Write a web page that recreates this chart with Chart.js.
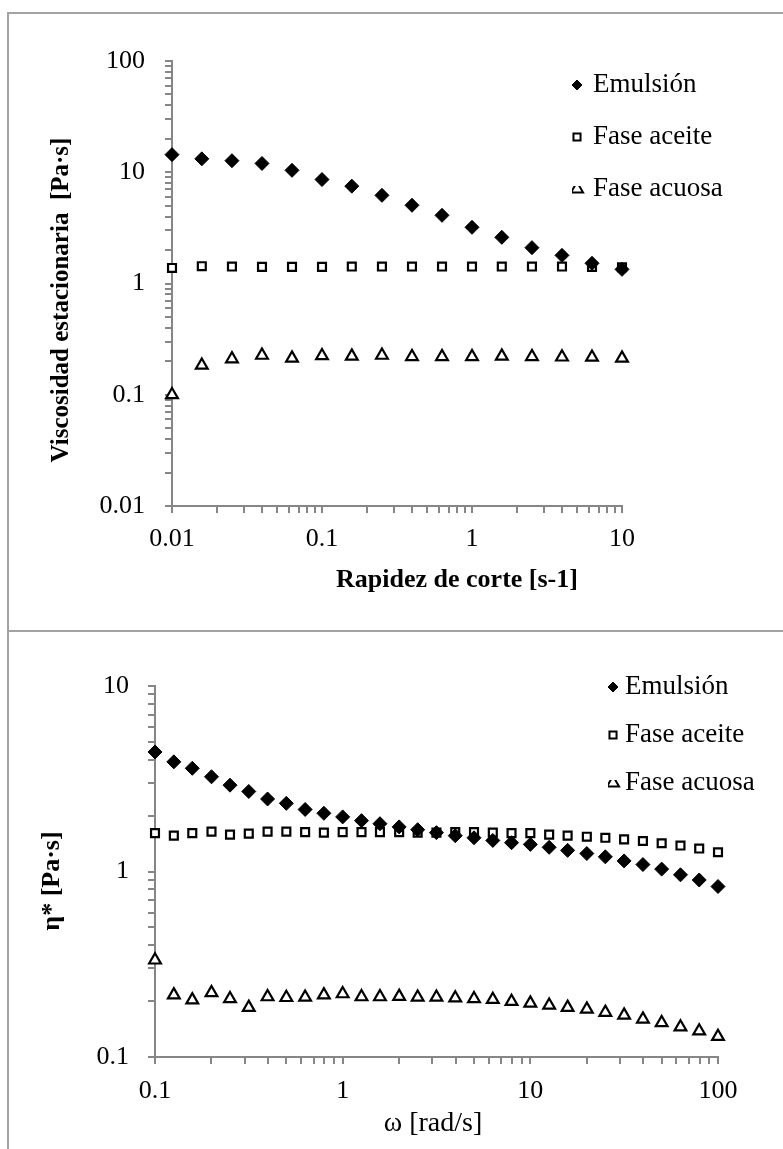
<!DOCTYPE html>
<html lang="es">
<head>
<meta charset="utf-8">
<title>Viscosidad de la emulsión y sus fases</title>
<script src="https://cdn.jsdelivr.net/npm/chart.js@4.4.1/dist/chart.umd.min.js"></script>
<style>
    html, body { margin: 0; padding: 0; background: #fff; }
    body { position: relative; width: 783px; height: 1149px; overflow: hidden; }
    .marco { position: absolute; left: 7px; width: 820px; border: 2px solid #a3a3a3; box-sizing: border-box; }
    #marco1 { top: 12px; height: 620px; }
    #marco2 { top: 630px; height: 580px; }
    canvas { position: absolute; left: 0; }
    #flujo { top: 0; }
    #oscilatorio { top: 630px; }
</style>
</head>
<body>
<div class="marco" id="marco1"></div>
<div class="marco" id="marco2"></div>
<canvas id="flujo" width="783" height="630"></canvas>
<canvas id="oscilatorio" width="783" height="519"></canvas>

<script>
// [1] datos: curva de flujo (viscosidad estacionaria vs rapidez de corte)
// -------------------------------------------
const rapidez = [0.01, 0.0158, 0.0251, 0.0398, 0.0631, 0.1, 0.158, 0.251, 0.398, 0.631, 1, 1.58, 2.51, 3.98, 6.31, 10];
const visEmulsion = [14.4, 13.2, 12.7, 12.0, 10.4, 8.6, 7.5, 6.2, 5.05, 4.1, 3.2, 2.6, 2.1, 1.79, 1.52, 1.34];
const visAceite = [1.38, 1.43, 1.42, 1.41, 1.41, 1.41, 1.42, 1.42, 1.42, 1.42, 1.42, 1.42, 1.42, 1.42, 1.41, 1.40];
const visAcuosa = [0.1, 0.184, 0.21, 0.226, 0.213, 0.224, 0.222, 0.226, 0.22, 0.22, 0.22, 0.222, 0.22, 0.218, 0.217, 0.213];

// [2] datos: barrido de frecuencia (viscosidad compleja vs omega)
// -------------------------------------------
const omega = [0.1, 0.126, 0.158, 0.2, 0.251, 0.316, 0.398, 0.501, 0.631, 0.794,
               1, 1.26, 1.58, 2, 2.51, 3.16, 3.98, 5.01, 6.31, 7.94,
               10, 12.6, 15.8, 20, 25.1, 31.6, 39.8, 50.1, 63.1, 79.4, 100];
const etaEmulsion = [4.41, 3.90, 3.60, 3.24, 2.92, 2.70, 2.46, 2.33, 2.16, 2.06,
                     1.97, 1.88, 1.81, 1.74, 1.68, 1.62, 1.56, 1.52, 1.47, 1.43,
                     1.40, 1.35, 1.30, 1.25, 1.20, 1.14, 1.09, 1.03, 0.96, 0.90, 0.83];
const etaAceite = [1.61, 1.56, 1.61, 1.64, 1.58, 1.60, 1.64, 1.64, 1.63, 1.62,
                   1.63, 1.63, 1.63, 1.63, 1.62, 1.62, 1.63, 1.63, 1.62, 1.61,
                   1.61, 1.58, 1.56, 1.54, 1.52, 1.49, 1.46, 1.42, 1.38, 1.33, 1.27];
const etaAcuosa = [0.333, 0.216, 0.203, 0.222, 0.206, 0.185, 0.211, 0.209, 0.210, 0.216,
                   0.219, 0.211, 0.211, 0.212, 0.210, 0.210, 0.208, 0.206, 0.204, 0.199,
                   0.195, 0.190, 0.185, 0.181, 0.174, 0.168, 0.160, 0.153, 0.145, 0.138, 0.129];

// [3] marcas de los ejes (décadas con etiqueta)
// -------------------------------------------
const decadasX1 = [0.01, 0.1, 1, 10];
const decadasY1 = [0.01, 0.1, 1, 10, 100];
const decadasX2 = [0.1, 1, 10, 100];
const decadasY2 = [0.1, 1, 10];

const series = ['Emulsión', 'Fase aceite', 'Fase acuosa'];

Chart.defaults.font.family = "'Liberation Serif', serif";
Chart.defaults.color = '#000';

const GRIS = '#868686';

// marcas menores 2..9 dentro de cada década
function marcasLog(decadas) {
    const marcas = [];
    decadas.forEach((d, i) => {
        marcas.push(d);
        if (i < decadas.length - 1) {
            for (let k = 2; k <= 9; k++) marcas.push(d * k);
        }
    });
    return marcas;
}

function ejeLog(decadas, tam, pad) {
    return {
        type: 'logarithmic',
        min: decadas[0],
        max: decadas[decadas.length - 1],
        afterBuildTicks: scale => {
            scale.ticks = marcasLog(decadas).map(v => ({ value: v }));
        },
        afterFit: scale => {
            if (scale.isHorizontal()) scale.height = tam;
            else scale.width = tam;
        },
        ticks: {
            autoSkip: false,
            maxRotation: 0,
            padding: pad,
            font: { size: 26 },
            callback: v => decadas.includes(v) ? String(v) : ' '
        },
        grid: {
            drawOnChartArea: false,
            drawTicks: true,
            tickLength: 7,
            color: GRIS,
            tickColor: GRIS,
            lineWidth: 2,
            tickWidth: 2
        },
        border: { color: GRIS, width: 2 }
    };
}

// estilos de los marcadores
const estilos = [
    { pointStyle: 'rectRot', pointRadius: 7, backgroundColor: '#000', borderColor: '#000', borderWidth: 1 },
    { pointStyle: 'rect', pointRadius: 5.6, backgroundColor: '#fff', borderColor: '#000', borderWidth: 2.2 },
    { pointStyle: 'triangle', pointRadius: 6.8, backgroundColor: '#fff', borderColor: '#000', borderWidth: 2.2 }
];

function armarSeries(xs, listas) {
    return listas.map((ys, i) => Object.assign({
        label: series[i],
        data: xs.map((x, j) => ({ x: x, y: ys[j] })),
        showLine: false,
        clip: false
    }, estilos[i]));
}

// [4] leyenda y títulos de ejes dibujados en el lienzo
// -------------------------------------------
function rotulos(cfg) {
    return {
        id: 'rotulos_' + cfg.id,
        afterDraw(chart) {
            const ctx = chart.ctx;
            ctx.save();
            ctx.fillStyle = '#000';

            // leyenda
            ctx.font = "27px 'Liberation Serif'";
            ctx.textAlign = 'left';
            ctx.textBaseline = 'middle';
            series.forEach((nombre, i) => {
                const y = cfg.leyY[i];
                const est = estilos[i];
                const opts = {
                    pointStyle: est.pointStyle,
                    radius: i === 2 ? 7 : 5,
                    borderWidth: est.borderWidth,
                    rotation: 0
                };
                ctx.save();
                ctx.fillStyle = est.backgroundColor;
                ctx.strokeStyle = est.borderColor;
                ctx.lineWidth = i === 0 ? 1 : 2;
                if (i === 2) {
                    // el triángulo de la leyenda sale recortado
                    ctx.beginPath();
                    ctx.rect(cfg.leyX - 5, y - 3, 16, 12);
                    ctx.clip();
                }
                Chart.helpers.drawPoint(ctx, opts, cfg.leyX, y);
                ctx.restore();
                ctx.fillText(nombre, cfg.leyTexto, y);
            });

            // título eje x
            ctx.textAlign = 'center';
            ctx.font = cfg.xFont;
            ctx.fillText(cfg.xTitulo, cfg.xPos[0], cfg.xPos[1]);

            // título eje y (vertical)
            ctx.translate(cfg.yPos[0], cfg.yPos[1]);
            ctx.rotate(-Math.PI / 2);
            ctx.font = cfg.yFont;
            ctx.fillText(cfg.yTitulo, 0, 0);
            ctx.restore();
        }
    };
}

function opciones(ejeX, ejeY, padding) {
    return {
        responsive: false,
        animation: false,
        events: [],
        layout: { padding: padding },
        scales: { x: ejeX, y: ejeY },
        plugins: { legend: { display: false }, tooltip: { enabled: false } }
    };
}

// [5] gráfico superior: curva de flujo
// -------------------------------------------
new Chart(document.getElementById('flujo'), {
    type: 'scatter',
    data: { datasets: armarSeries(rapidez, [visEmulsion, visAceite, visAcuosa]) },
    options: opciones(
        ejeLog(decadasX1, 70, 11),
        ejeLog(decadasY1, 80, 20),
        { left: 92, right: 161, top: 61, bottom: 54 }
    ),
    plugins: [rotulos({
        id: 'flujo',
        leyX: 577, leyTexto: 593, leyY: [85, 137, 189],
        xTitulo: 'Rapidez de corte [s-1]', xFont: "bold 26px 'Liberation Serif'", xPos: [457, 580],
        yTitulo: 'Viscosidad estacionaria  [Pa·s]', yFont: "bold 25px 'Liberation Serif'", yPos: [62, 300]
    })]
});

// [6] gráfico inferior: viscosidad compleja
// -------------------------------------------
new Chart(document.getElementById('oscilatorio'), {
    type: 'scatter',
    data: { datasets: armarSeries(omega, [etaEmulsion, etaAceite, etaAcuosa]) },
    options: opciones(
        ejeLog(decadasX2, 70, 12),
        ejeLog(decadasY2, 80, 19),
        { left: 75, right: 65, top: 56, bottom: 22 }
    ),
    plugins: [rotulos({
        id: 'oscilatorio',
        leyX: 613, leyTexto: 625, leyY: [57, 105, 153],
        xTitulo: 'ω [rad/s]', xFont: "28px 'Liberation Serif'", xPos: [433, 494],
        yTitulo: 'η* [Pa·s]', yFont: "bold 26px 'Liberation Serif'", yPos: [52, 251]
    })]
});
</script>
</body>
</html>
